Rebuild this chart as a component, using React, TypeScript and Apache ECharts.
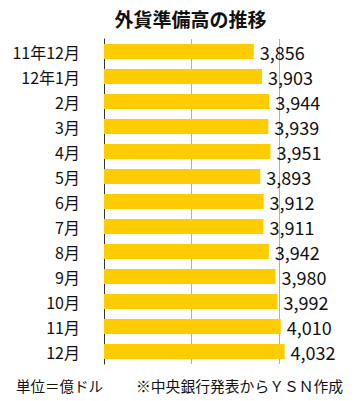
import React, { useEffect, useRef } from "react";
import * as echarts from "echarts";

const categories = ["11年12月", "12年1月", "2月", "3月", "4月", "5月", "6月", "7月", "8月", "9月", "10月", "11月", "12月"];
const values = [3856, 3903, 3944, 3939, 3951, 3893, 3912, 3911, 3942, 3980, 3992, 4010, 4032];
const titleText = "外貨準備高の推移";
const unitText = "単位＝億ドル";
const sourceText = "※中央銀行発表からＹＳＮ作成";

const FONT = '"Noto Sans CJK JP", "Noto Sans", sans-serif';

export default function App() {
  const ref = useRef<HTMLDivElement>(null);
  useEffect(() => {
    if (!ref.current) return;
    const chart = echarts.init(ref.current, undefined, { renderer: "svg" });
    chart.setOption({
      animation: false,
      backgroundColor: "#ffffff",
      textStyle: { fontFamily: FONT },
      grid: { left: 104, top: 39, height: 325, width: 262.5, outerBoundsMode: "none", containLabel: false },
      xAxis: {
        type: "value",
        min: 3000,
        max: 4500,
        interval: 500,
        axisLabel: { show: false },
        axisLine: { show: false },
        axisTick: { show: false },
        splitLine: { show: true, lineStyle: { color: "#b0b0b0", width: 1 } },
      },
      yAxis: {
        type: "category",
        data: categories,
        inverse: true,
        axisLine: { show: true, lineStyle: { color: "#333333", width: 1 } },
        axisTick: { show: false },
        axisLabel: { color: "#111111", fontSize: 16, margin: 24, fontFamily: FONT },
      },
      series: [
        {
          type: "bar",
          data: values,
          barWidth: 15,
          itemStyle: { color: "#FFCC00" },
          label: {
            show: true,
            position: "right",
            distance: 6,
            color: "#111111",
            fontSize: 18,
            fontFamily: FONT,
            formatter: (p: any) => Number(p.value).toLocaleString("en-US"),
          },
        },
      ],
      graphic: [
        {
          type: "text",
          x: 190.5,
          y: 18,
          style: {
            text: titleText,
            fontSize: 19,
            fontWeight: "bold",
            fontFamily: FONT,
            fill: "#111111",
            textAlign: "center",
            textVerticalAlign: "middle",
          },
        },
        {
          type: "text",
          x: 16,
          y: 385,
          style: {
            text: unitText,
            fontSize: 14.5,
            fontFamily: FONT,
            fill: "#111111",
            textAlign: "left",
            textVerticalAlign: "middle",
          },
        },
        {
          type: "text",
          x: 136,
          y: 385,
          style: {
            text: sourceText,
            fontSize: 14.8,
            fontFamily: FONT,
            fill: "#111111",
            textAlign: "left",
            textVerticalAlign: "middle",
          },
        },
      ],
    });
    return () => chart.dispose();
  }, []);
  return (
    <div
      ref={ref}
      style={{ position: "absolute", left: 0, top: 0, width: 358, height: 401 }}
    />
  );
}
